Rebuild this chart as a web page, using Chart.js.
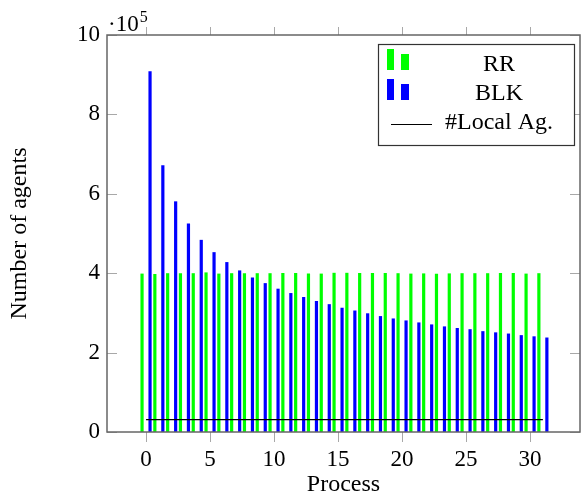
<!DOCTYPE html>
<html>
<head>
<meta charset="utf-8">
<title>Agents per process</title>
<script src="https://cdn.jsdelivr.net/npm/chart.js@4.4.1/dist/chart.umd.min.js"></script>
<style>
  html, body { margin: 0; padding: 0; background: #fff; }
  #wrap { width: 581px; height: 498px; }
</style>
</head>
<body>
<div id="wrap"><canvas id="agentsChart" width="581" height="498"></canvas></div>
<script>
// Agents assigned to each process, per scheduling strategy
const processes = [0, 1, 2, 3, 4, 5, 6, 7, 8, 9, 10, 11, 12, 13, 14, 15,
                   16, 17, 18, 19, 20, 21, 22, 23, 24, 25, 26, 27, 28, 29, 30, 31];
const rrAgents = [399000, 398000, 400000, 400000, 400000, 402000, 399000, 400000,
                  400000, 400000, 400000, 400500, 400500, 399000, 399000, 401000,
                  401000, 400500, 400500, 400500, 400000, 399000, 399500, 398500,
                  399500, 400000, 400000, 400000, 400500, 400500, 399000, 400000];
const blkAgents = [909000, 672000, 581000, 525000, 484000, 453000, 428000, 407000,
                   389000, 375000, 361000, 350000, 340000, 330000, 322000, 313000,
                   306000, 299000, 292000, 286000, 281000, 276000, 271000, 266000,
                   262000, 259000, 254000, 251000, 248000, 244000, 241000, 238000];
const localAgents = [31250, 31250, 31250, 31250, 31250, 31250, 31250, 31250,
                     31250, 31250, 31250, 31250, 31250, 31250, 31250, 31250,
                     31250, 31250, 31250, 31250, 31250, 31250, 31250, 31250,
                     31250, 31250, 31250, 31250, 31250, 31250, 31250, 31250];
const xTicks = [0, 5, 10, 15, 20, 25, 30];
const yTicks = [0, 200000, 400000, 600000, 800000, 1000000];
const yExponent = 5;

const FONT = "'Liberation Serif', 'DejaVu Serif', serif";
const GREEN = '#00ff00';
const BLUE = '#0000ff';

const toPoints = values => processes.map((p, i) => ({ x: p, y: values[i] }));

// Frame, tick marks, exponent label and the legend box
const axisDecor = {
    id: 'axisDecor',
    afterDatasetsDraw(chart) {
        const { ctx, chartArea: { left, right, top, bottom }, scales: { x, y } } = chart;
        ctx.save();

        // tick marks: x outside (top and bottom), y inside (left and right)
        ctx.strokeStyle = '#a8a8a8';
        ctx.lineWidth = 1;
        ctx.beginPath();
        x.ticks.forEach(t => {
            const px = Math.round(x.getPixelForValue(t.value)) + 0.5;
            ctx.moveTo(px, bottom);
            ctx.lineTo(px, bottom + 10);
            ctx.moveTo(px, top);
            ctx.lineTo(px, top - 8);
        });
        y.ticks.forEach(t => {
            const py = Math.round(y.getPixelForValue(t.value)) + 0.5;
            ctx.moveTo(left, py);
            ctx.lineTo(left + 10, py);
            ctx.moveTo(right, py);
            ctx.lineTo(right - 10, py);
        });
        ctx.stroke();

        // axis frame
        ctx.strokeStyle = '#666';
        ctx.lineWidth = 1.5;
        ctx.strokeRect(left, top, right - left, bottom - top);

        // scale factor of the y axis
        ctx.fillStyle = '#000';
        ctx.textBaseline = 'alphabetic';
        ctx.textAlign = 'left';
        ctx.font = `23px ${FONT}`;
        const base = '\u00b710';
        ctx.fillText(base, left + 1, top - 4);
        const w = ctx.measureText(base).width;
        ctx.font = `16px ${FONT}`;
        ctx.fillText(String(yExponent), left + 1 + w + 1, top - 13);

        ctx.restore();
    },
    afterDraw(chart) {
        const { ctx } = chart;
        const ds = chart.data.datasets;
        ctx.save();

        // legend box
        ctx.fillStyle = '#fff';
        ctx.fillRect(378, 44, 196, 101);
        ctx.strokeStyle = '#333';
        ctx.lineWidth = 1.2;
        ctx.strokeRect(378.5, 44.5, 196, 101);

        const drawBarIcon = (color, yTop) => {
            ctx.fillStyle = color;
            ctx.fillRect(387, yTop, 7, 21);
            ctx.fillRect(401, yTop + 5, 8, 16);
        };
        drawBarIcon(ds[0].backgroundColor, 49);
        drawBarIcon(ds[1].backgroundColor, 79);

        ctx.strokeStyle = ds[2].borderColor;
        ctx.lineWidth = 1.2;
        ctx.beginPath();
        ctx.moveTo(391, 124.5);
        ctx.lineTo(432, 124.5);
        ctx.stroke();

        ctx.fillStyle = '#000';
        ctx.font = `24px ${FONT}`;
        ctx.textAlign = 'center';
        ctx.textBaseline = 'alphabetic';
        ctx.fillText(ds[0].label, 499, 71);
        ctx.fillText(ds[1].label, 499, 100);
        ctx.fillText(ds[2].label, 499, 129);

        ctx.restore();
    }
};

const chart = new Chart(document.getElementById('agentsChart'), {
    type: 'bar',
    data: {
        datasets: [
            {
                label: 'RR',
                data: toPoints(rrAgents),
                backgroundColor: GREEN,
                categoryPercentage: 1.25,
                barPercentage: 0.4,
                order: 2
            },
            {
                label: 'BLK',
                data: toPoints(blkAgents),
                backgroundColor: BLUE,
                categoryPercentage: 1.25,
                barPercentage: 0.4,
                order: 2
            },
            {
                type: 'line',
                label: '#Local Ag.',
                data: toPoints(localAgents),
                borderColor: '#000',
                borderWidth: 1.2,
                pointRadius: 0,
                fill: false,
                order: 1
            }
        ]
    },
    options: {
        responsive: false,
        animation: false,
        layout: { padding: { top: 35, right: 1, left: 0, bottom: 0 } },
        plugins: {
            legend: { display: false },
            tooltip: { enabled: false }
        },
        scales: {
            x: {
                type: 'linear',
                min: -3.05,
                max: 33.9,
                offset: false,
                grid: { display: false, drawTicks: false, offset: false },
                border: { display: false },
                afterBuildTicks: scale => { scale.ticks = xTicks.map(v => ({ value: v })); },
                afterFit: scale => { scale.height = 66; },
                ticks: {
                    padding: 14,
                    color: '#000',
                    maxRotation: 0,
                    autoSkip: false,
                    font: { family: FONT, size: 23 },
                    callback: v => String(v)
                },
                title: {
                    display: true,
                    text: 'Process',
                    color: '#000',
                    font: { family: FONT, size: 24, lineHeight: 1 },
                    padding: { top: 0, bottom: 1 }
                }
            },
            y: {
                min: 0,
                max: 1000000,
                grid: { display: false, drawTicks: false },
                border: { display: false },
                afterBuildTicks: scale => { scale.ticks = yTicks.map(v => ({ value: v })); },
                afterFit: scale => { scale.width = 107; },
                ticks: {
                    padding: 7,
                    color: '#000',
                    font: { family: FONT, size: 23 },
                    callback: v => String(v / Math.pow(10, yExponent))
                },
                title: {
                    display: true,
                    text: 'Number of agents',
                    color: '#000',
                    font: { family: FONT, size: 24, lineHeight: 1 },
                    padding: { top: 8, bottom: 0 }
                }
            }
        }
    },
    plugins: [axisDecor]
});
</script>
</body>
</html>
